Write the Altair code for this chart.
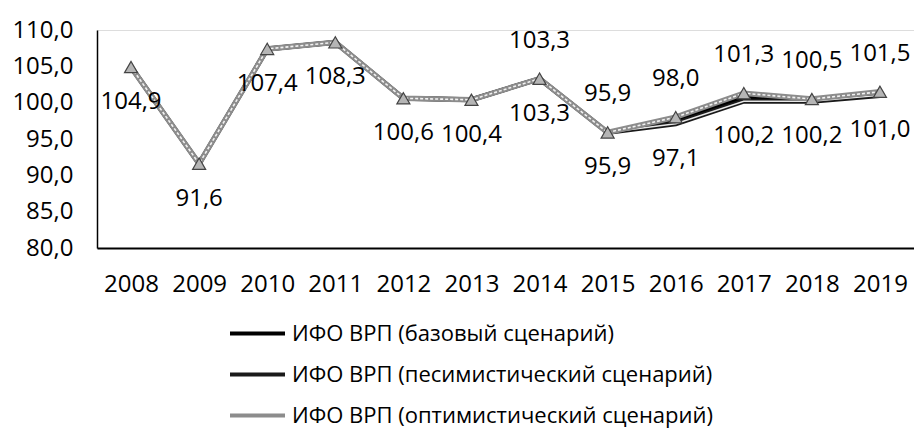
import altair as alt
import pandas as pd

years = [str(y) for y in range(2008, 2020)]
history = [104.9, 91.6, 107.4, 108.3, 100.6, 100.4, 103.3, 95.9]
base_fc = [97.6, 100.8, 100.4, 101.3]
pess_fc = [97.1, 100.2, 100.2, 101.0]
opt_fc = [98.0, 101.3, 100.5, 101.5]

S_BASE = "ИФО ВРП (базовый сценарий)"
S_PESS = "ИФО ВРП (песимистический сценарий)"
S_OPT = "ИФО ВРП (оптимистический сценарий)"
series_names = [S_BASE, S_PESS, S_OPT]

rows = []
for name, fc in zip(series_names, [base_fc, pess_fc, opt_fc]):
    vals = history + fc
    for y, v in zip(years, vals):
        rows.append({"year": y, "series": name, "value": v})
df = pd.DataFrame(rows)

FONT = "Open Sans"

x = alt.X("year:O", title=None,
          scale=alt.Scale(type="point", padding=0.5),
          axis=alt.Axis(labelAngle=0, ticks=False, domainColor="black",
                        domainWidth=2, labelFontSize=24, labelFont=FONT,
                        labelColor="black", labelPadding=24))
y = alt.Y("value:Q", title=None,
          scale=alt.Scale(domain=[80, 110], nice=False, zero=False),
          axis=alt.Axis(values=[80, 85, 90, 95, 100, 105, 110], ticks=False,
                        grid=False, domainColor="black", domainWidth=1.5,
                        labelFontSize=24, labelFont=FONT, labelColor="black",
                        labelPadding=24,
                        labelExpr="replace(format(datum.value, '.1f'), '.', ',')"))

color = alt.Color("series:N", title=None,
                  scale=alt.Scale(domain=series_names,
                                  range=["#000000", "#1a1a1a", "#8c8c8c"]),
                  legend=alt.Legend(orient="none", legendX=131, legendY=274,
                                    direction="vertical", symbolType="stroke",
                                    symbolStrokeWidth=4, symbolSize=3025,
                                    labelFontSize=22, labelFont=FONT,
                                    labelColor="black", labelOffset=5,
                                    rowPadding=-16.5, labelLimit=600))

base = alt.Chart(df).encode(x=x, y=y)

line_base = base.transform_filter(alt.datum.series == S_BASE).mark_line(strokeWidth=4.5).encode(color=color)
line_pess = base.transform_filter(alt.datum.series == S_PESS).mark_line(strokeWidth=5).encode(color=color)
line_pess_in = base.transform_filter(alt.datum.series == S_PESS).mark_line(strokeWidth=1.4, color="#e8e8e8")
line_opt = base.transform_filter(alt.datum.series == S_OPT).mark_line(strokeWidth=5.5).encode(color=color)
line_opt_in = base.transform_filter(alt.datum.series == S_OPT).mark_line(strokeWidth=1.6, color="#f2f2f2", strokeDash=[3, 2])
pts_opt = base.transform_filter(alt.datum.series == S_OPT).mark_point(
    shape="triangle-up", filled=True, size=170, color="#b5b5b5",
    stroke="#444444", strokeWidth=1.2, opacity=1)

label_expr = "replace(format(datum.value, '.1f'), '.', ',')"
txt_pess = base.transform_filter(alt.datum.series == S_PESS).transform_calculate(
    lab=label_expr).mark_text(dy=35, fontSize=24, font=FONT, color="black",
                               baseline="middle").encode(text="lab:N")
txt_opt = base.transform_filter(
    (alt.datum.series == S_OPT) & (alt.datum.year >= "2014")).transform_calculate(
    lab=label_expr).mark_text(dy=-38, fontSize=24, font=FONT, color="black",
                               baseline="middle").encode(text="lab:N")

chart = alt.layer(line_base, line_pess, line_pess_in, line_opt, line_opt_in,
                  pts_opt, txt_pess, txt_opt).properties(
    width=817, height=218,
    autosize=alt.AutoSizeParams(type="none"),
    padding={"left": 89, "top": 22, "right": 0, "bottom": 190},
).configure_view(stroke=None).configure(background="white")

chart.save("out.html", embed_options={"renderer": "svg", "actions": False})
